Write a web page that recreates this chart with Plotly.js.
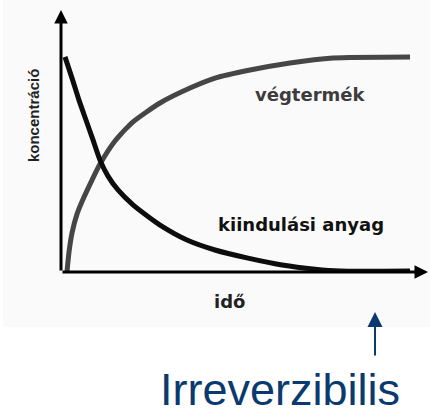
<!DOCTYPE html>
<html>
<head>
<meta charset="utf-8">
<script src="https://cdn.plot.ly/plotly-3.0.1.min.js"></script>
<style>html,body{margin:0;padding:0;background:#fff}#chart{width:430px;height:416px}</style>
</head>
<body>
<div id="chart"></div>
<script>
// kiindulási anyag (starting material) — decaying curve
const startTime = [0.109, 0.300, 0.490, 0.681, 0.872, 1.063, 1.281, 1.553, 1.962, 2.425, 2.698, 3.433, 4.196, 5.095, 6.022, 6.921, 7.602, 9.510];
const startConc = [0.821, 0.740, 0.656, 0.580, 0.504, 0.427, 0.366, 0.313, 0.256, 0.206, 0.179, 0.122, 0.084, 0.053, 0.027, 0.011, 0.004, 0.004];
// végtermék (end product) — rising curve
const endTime = [0.163, 0.218, 0.300, 0.436, 0.627, 0.845, 1.063, 1.471, 1.962, 2.698, 3.515, 4.196, 5.150, 6.240, 7.411, 9.510];
const endConc = [0.000, 0.076, 0.149, 0.221, 0.286, 0.351, 0.412, 0.500, 0.573, 0.645, 0.702, 0.740, 0.771, 0.798, 0.817, 0.821];

const labelEnd = 'végtermék';
const labelStart = 'kiindulási anyag';
const xTitle = 'idő';
const yTitle = 'koncentráció';
const caption = 'Irreverzibilis';

const blue = '#0a3a6e';
const labelFont = {family: 'DejaVu Sans', size: 18, color: '#1a1a1a'};

const traces = [
  {x: endTime, y: endConc, mode: 'lines', line: {color: '#464646', width: 5, shape: 'spline', smoothing: 0.6}, cliponaxis: false, hoverinfo: 'skip'},
  {x: startTime, y: startConc, mode: 'lines', line: {color: '#0d0d0d', width: 5, shape: 'spline', smoothing: 0.6}, cliponaxis: false, hoverinfo: 'skip'}
];

const centered = {xanchor: 'center', yanchor: 'middle', showarrow: false, xref: 'paper', yref: 'paper'};

const layout = {
  width: 430, height: 416,
  margin: {l: 61, r: 2, t: 10, b: 144, pad: 0},
  paper_bgcolor: '#ffffff', plot_bgcolor: 'rgba(0,0,0,0)',
  showlegend: false,
  xaxis: {range: [0, 10], visible: false, fixedrange: true},
  yaxis: {range: [0, 1], visible: false, fixedrange: true},
  shapes: [
    {type: 'rect', xref: 'paper', yref: 'paper', x0: -0.158, x1: 1.006, y0: -0.21, y1: 1.04, fillcolor: '#fafafa', line: {width: 0}, layer: 'below'}
  ],
  annotations: [
    // axes with arrowheads
    {x: 0, y: 1, ax: 0, ay: 0, xref: 'x', yref: 'y', axref: 'x', ayref: 'y', text: '', showarrow: true, arrowhead: 2, arrowsize: 0.9, arrowwidth: 3, arrowcolor: '#000'},
    {x: 10, y: 0, ax: 0, ay: 0, xref: 'x', yref: 'y', axref: 'x', ayref: 'y', text: '', showarrow: true, arrowhead: 2, arrowsize: 0.9, arrowwidth: 3, arrowcolor: '#000'},
    // curve labels
    Object.assign({x: 0.6785, y: 0.679, text: '<b>' + labelEnd + '</b>', font: Object.assign({}, labelFont, {color: '#3c3c3c'})}, centered),
    Object.assign({x: 0.654, y: 0.183, text: '<b>' + labelStart + '</b>', font: Object.assign({}, labelFont, {color: '#111'})}, centered),
    // axis titles
    Object.assign({x: 0.4578, y: -0.1145, text: '<b>' + xTitle + '</b>', font: Object.assign({}, labelFont, {color: '#222'})}, centered),
    Object.assign({x: -0.0763, y: 0.599, text: '<b>' + yTitle + '</b>', textangle: -90, font: {family: 'Liberation Sans', size: 15, color: '#222'}}, centered),
    // caption arrow and text
    {x: 0.8556, y: -0.1527, xref: 'paper', yref: 'paper', ax: 0, ay: 45, text: '', showarrow: true, arrowhead: 2, arrowsize: 1.5, arrowwidth: 2, arrowcolor: blue},
    {x: 0.5967, y: -0.549, xref: 'paper', yref: 'paper', xanchor: 'center', yanchor: 'bottom', borderpad: 0, text: caption, showarrow: false, font: {family: 'Liberation Sans', size: 45, color: blue}}
  ]
};

Plotly.newPlot('chart', traces, layout, {staticPlot: true, displayModeBar: false});
</script>
</body>
</html>
